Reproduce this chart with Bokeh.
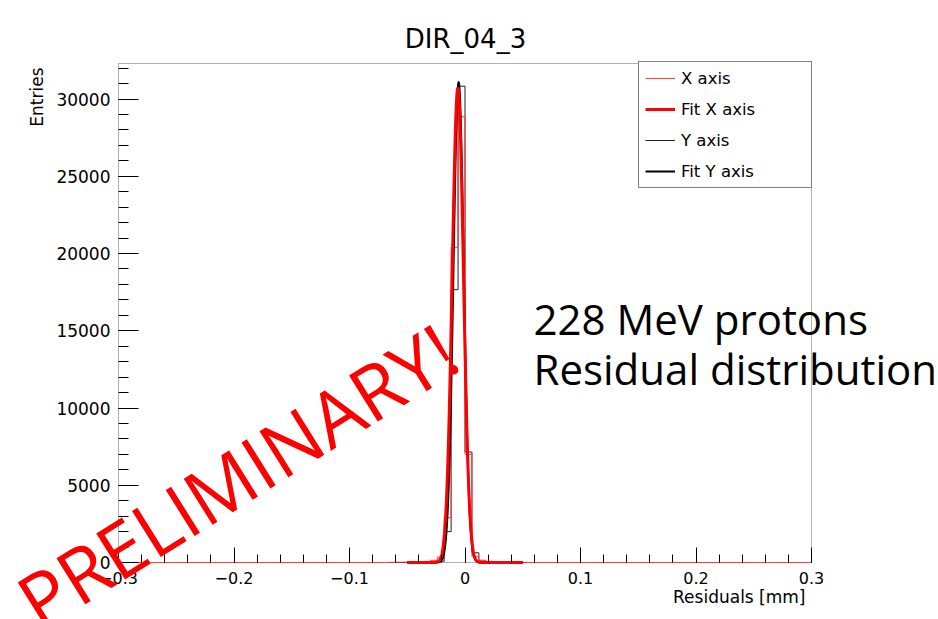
import math
import numpy as np
from bokeh.plotting import figure
from bokeh.models import (Range1d, FixedTicker, CustomJSTickFormatter,
                          BasicTickFormatter, Label, Legend, LegendItem,
                          LinearAxis, BoxAnnotation)
from bokeh.embed import file_html
from bokeh.resources import INLINE

# ---------------- data ----------------
title_text = "DIR_04_3"
x_label = "Residuals [mm]"
y_label = "Entries"
series_names = ["X axis", "Fit X axis", "Y axis", "Fit Y axis"]

hist_lo, hist_hi, n_bins = -0.3, 0.3, 100
core_first_edge = -0.066          # left edge of first listed bin
# X axis residual histogram (counts per 0.006 mm bin, from -0.066 mm)
x_axis_counts = [10, 20, 25, 35, 45, 70, 140, 350, 2900, 20400,
                 28850, 7000, 400, 150, 80, 50, 35, 25, 15, 10]
# Y axis residual histogram
y_axis_counts = [0, 0, 0, 0, 0, 0, 10, 80, 2000, 17660,
                 30830, 7150, 630, 100, 0, 0, 0, 0, 0, 0]

# Gaussian fit parameters
fit_x_amp, fit_x_mean, fit_x_sigma = 30700, -0.0062, 0.0049
fit_y_amp, fit_y_mean, fit_y_sigma = 31100, -0.0055, 0.0045
fit_lo, fit_hi = -0.05, 0.05

y_max = 32300
x_major_ticks = [-0.3, -0.2, -0.1, 0.0, 0.1, 0.2, 0.3]
y_major_ticks = [0, 5000, 10000, 15000, 20000, 25000, 30000]
annot_line1 = "228 MeV protons"
annot_line2 = "Residual distribution"
stamp_text = "PRELIMINARY!"

# ---------------- helpers ----------------
edges = np.linspace(hist_lo, hist_hi, n_bins + 1)
bw = edges[1] - edges[0]
off = int(round((core_first_edge - hist_lo) / bw))


def full_counts(core):
    c = np.zeros(n_bins)
    c[off:off + len(core)] = core
    return np.append(c, c[-1])


def gauss(x, a, m, s):
    return a * np.exp(-0.5 * ((x - m) / s) ** 2)


fx = np.linspace(fit_lo, fit_hi, 800)
x_minor = [round(hist_lo + 0.02 * i, 4) for i in range(31)]
y_minor = list(range(0, int(y_max) + 1, 1000))

# frame geometry in pixels (the data frame inside the canvas)
W, H = 938, 619
FL, FR, FT, FB = 118, 811, 63, 562


def dx(px):
    return hist_lo + (px - FL) * (hist_hi - hist_lo) / (FR - FL)


def dy(py):
    return (FB - py) * y_max / (FB - FT)


p = figure(width=W, height=H,
           x_range=Range1d(dx(0), dx(W)), y_range=Range1d(dy(H), dy(0)),
           output_backend="svg", toolbar_location=None,
           x_axis_location=None, y_axis_location=None,
           min_border=0, min_border_left=0, min_border_right=0,
           min_border_top=0, min_border_bottom=0)
p.background_fill_color = "white"
p.border_fill_color = "white"
p.outline_line_color = None
p.grid.visible = False

# frame box (drawn beneath the data)
p.add_layout(BoxAnnotation(left=hist_lo, right=hist_hi, bottom=0, top=y_max,
                           fill_alpha=0, line_color="black", line_width=1,
                           level="underlay"))

# histograms and fits
r_yh = p.step(edges, full_counts(y_axis_counts), mode="after",
              line_color="#222222", line_width=1)
r_xh = p.step(edges, full_counts(x_axis_counts), mode="after",
              line_color="#ff4040", line_width=1)
r_yf = p.line(fx, gauss(fx, fit_y_amp, fit_y_mean, fit_y_sigma),
              line_color="black", line_width=2)
r_xf = p.line(fx, gauss(fx, fit_x_amp, fit_x_mean, fit_x_sigma),
              line_color="#ff0000", line_width=3)

# axes (fixed inside the canvas so that texts are not clipped)
xa = LinearAxis(fixed_location=0, bounds=(hist_lo, hist_hi),
                ticker=FixedTicker(ticks=x_major_ticks, minor_ticks=x_minor))
xa.formatter = CustomJSTickFormatter(code="""
if (Math.abs(tick) < 1e-9) return "0";
var s = Math.abs(tick).toFixed(1);
return (tick < 0 ? "\u2212" : "") + s;
""")
xa.major_tick_in = 15
xa.major_tick_out = 0
xa.minor_tick_in = 8
xa.minor_tick_out = 0
xa.major_label_standoff = 9
xa.major_label_text_font = "DejaVu Sans"
xa.major_label_text_font_size = "16px"
xa.major_label_text_color = "black"
xa.axis_line_color = None
xa.major_tick_line_color = "black"
xa.minor_tick_line_color = "black"
p.add_layout(xa, "below")

ya = LinearAxis(fixed_location=hist_lo, bounds=(0, y_max),
                ticker=FixedTicker(ticks=y_major_ticks, minor_ticks=y_minor))
ya.formatter = BasicTickFormatter(use_scientific=False)
ya.major_tick_in = 20
ya.major_tick_out = 0
ya.minor_tick_in = 10
ya.minor_tick_out = 0
ya.major_label_standoff = 8
ya.major_label_text_font = "DejaVu Sans"
ya.major_label_text_font_size = "17px"
ya.major_label_text_color = "black"
ya.axis_line_color = None
ya.major_tick_line_color = "black"
ya.minor_tick_line_color = "black"
p.add_layout(ya, "left")

# legend (bottom-left corner given in screen px from the bottom-left)
legend = Legend(items=[LegendItem(label=series_names[0], renderers=[r_xh]),
                       LegendItem(label=series_names[1], renderers=[r_xf]),
                       LegendItem(label=series_names[2], renderers=[r_yh]),
                       LegendItem(label=series_names[3], renderers=[r_yf])],
                location=(638, H - 188), margin=0, padding=6, spacing=11,
                glyph_width=30, glyph_height=20, label_height=20,
                label_width=124, label_standoff=6,
                border_line_color="black", border_line_width=1,
                background_fill_color="white", background_fill_alpha=1,
                label_text_font="DejaVu Sans", label_text_font_size="16.5px",
                label_text_color="black")
p.add_layout(legend)

# texts
p.add_layout(Label(x=dx(465), y=dy(38), text=title_text, text_align="center",
                   text_baseline="middle", text_font="DejaVu Sans",
                   text_font_size="26px", text_color="black"))
p.add_layout(Label(x=dx(805), y=dy(596), text=x_label, text_align="right",
                   text_baseline="middle", text_font="DejaVu Sans",
                   text_font_size="17px", text_color="black"))
p.add_layout(Label(x=dx(36), y=dy(67), text=y_label, angle=math.pi / 2,
                   text_align="right", text_baseline="middle",
                   text_font="DejaVu Sans", text_font_size="17px",
                   text_color="black"))
p.add_layout(Label(x=dx(533), y=dy(318), text=annot_line1, text_align="left",
                   text_baseline="alphabetic", text_font="Open Sans",
                   text_font_size="42px", text_color="black"))
p.add_layout(Label(x=dx(533), y=dy(368), text=annot_line2, text_align="left",
                   text_baseline="alphabetic", text_font="Open Sans",
                   text_font_size="42px", text_color="black"))
p.add_layout(Label(x=dx(24), y=dy(607), text=stamp_text,
                   angle=math.radians(32.0), text_align="left",
                   text_baseline="alphabetic", text_font="Open Sans",
                   text_font_size="76px", text_color="#ff0000"))

open("out.html", "w").write(file_html(p, INLINE))
